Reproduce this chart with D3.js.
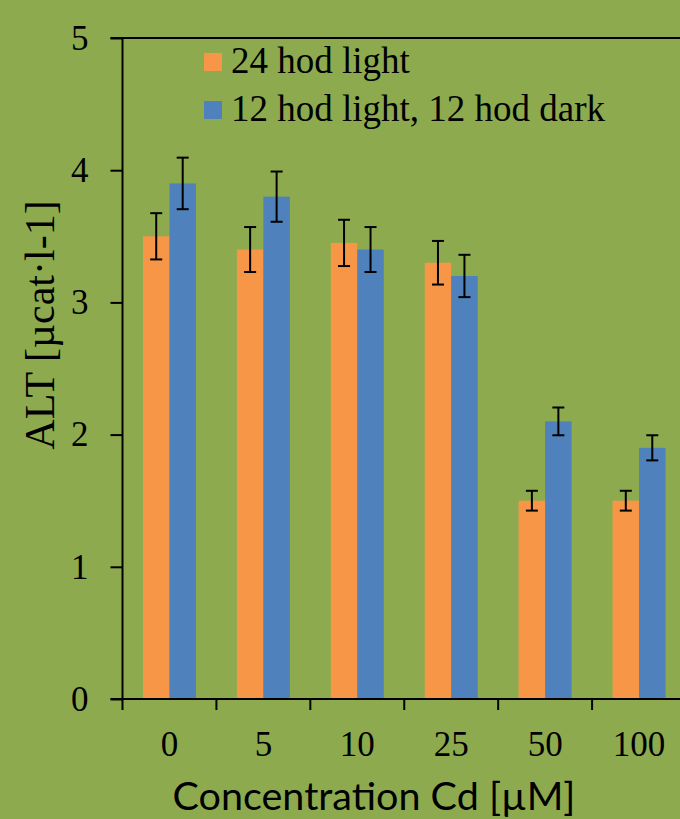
<!DOCTYPE html>
<script src="https://d3js.org/d3.v7.min.js"></script>

<style>
body {margin: 0; background: #8dab4e;}
svg {display: block;}
.tick text {font-family: "Liberation Serif", "Times New Roman", serif; font-size: 35px; fill: black;}
.legend text {font-family: "Liberation Serif", serif; font-size: 37px;}
</style>

<svg width="680" height="819"></svg>

<script>
var categories = ["0", "5", "10", "25", "50", "100"];
var lightValues = [3.5, 3.4, 3.45, 3.3, 1.5, 1.5];
var lightErrors = [0.175, 0.17, 0.175, 0.165, 0.075, 0.075];
var darkValues = [3.9, 3.8, 3.4, 3.2, 2.1, 1.9];
var darkErrors = [0.195, 0.19, 0.17, 0.16, 0.105, 0.095];
var seriesNames = ["24 hod light", "12 hod light, 12 hod dark"];
var seriesColors = ["#f79646", "#4f81bd"];
var yTicks = [0, 1, 2, 3, 4, 5];

var svg = d3.select("svg");
svg.append("rect").attr("width", 680).attr("height", 819).attr("fill", "#8dab4e");

var plotLeft = 122.5, plotTop = 38, plotBottom = 699, plotRight = 686;

var x = d3.scaleBand().domain(categories).range([plotLeft, plotRight]).padding(0);
var y = d3.scaleLinear().domain([0, 5]).range([plotBottom, plotTop]);

var barW = x.bandwidth() * 0.282;

var series = [
    {values: lightValues, errors: lightErrors, color: seriesColors[0], off: -1},
    {values: darkValues, errors: darkErrors, color: seriesColors[1], off: 0}
];

var data = [];
series.forEach(function(s) {
    categories.forEach(function(c, i) {
        data.push({cat: c, v: s.values[i], e: s.errors[i], color: s.color, off: s.off});
    });
});

function bx(d) { return x(d.cat) + x.bandwidth() / 2 + d.off * barW; }

svg.append("g").selectAll("rect").data(data).enter().append("rect")
    .attr("x", bx)
    .attr("y", function(d) { return y(d.v); })
    .attr("width", barW)
    .attr("height", function(d) { return y(0) - y(d.v); })
    .attr("fill", function(d) { return d.color; });

// error bars
var err = svg.append("g").attr("stroke", "black").attr("stroke-width", 2)
    .selectAll("g").data(data).enter().append("g");
err.append("line")
    .attr("x1", function(d) { return bx(d) + barW / 2; })
    .attr("x2", function(d) { return bx(d) + barW / 2; })
    .attr("y1", function(d) { return y(d.v + d.e); })
    .attr("y2", function(d) { return y(d.v - d.e); });
[1, -1].forEach(function(sgn) {
    err.append("line")
        .attr("x1", function(d) { return bx(d) + barW / 2 - 6; })
        .attr("x2", function(d) { return bx(d) + barW / 2 + 6; })
        .attr("y1", function(d) { return y(d.v + sgn * d.e); })
        .attr("y2", function(d) { return y(d.v + sgn * d.e); });
});

// y axis
var yAxis = svg.append("g").attr("transform", "translate(" + plotLeft + ",0)")
    .call(d3.axisLeft(y).tickValues(yTicks).tickSize(12).tickPadding(22).tickFormat(d3.format("d")));
yAxis.select(".domain").remove();
yAxis.append("line").attr("x1", 0).attr("x2", 0).attr("y1", plotTop).attr("y2", plotBottom)
    .attr("stroke", "black").attr("stroke-width", 2);
yAxis.selectAll(".tick line").attr("stroke-width", 2);

// top border
svg.append("line").attr("x1", plotLeft - 12).attr("x2", 680).attr("y1", plotTop).attr("y2", plotTop)
    .attr("stroke", "black").attr("stroke-width", 2);

// x axis
var xAxis = svg.append("g").attr("transform", "translate(0," + plotBottom + ")")
    .call(d3.axisBottom(x).tickSize(0).tickPadding(32));
xAxis.select(".domain").remove();
xAxis.append("line").attr("x1", plotLeft - 12).attr("x2", 680).attr("y1", 0).attr("y2", 0)
    .attr("stroke", "black").attr("stroke-width", 2);
xAxis.selectAll(".bound").data(categories).enter().append("line")
    .attr("x1", function(d) { return x(d); })
    .attr("x2", function(d) { return x(d); })
    .attr("y1", 0).attr("y2", 11)
    .attr("stroke", "black").attr("stroke-width", 2);

// axis titles
svg.append("text")
    .attr("transform", "translate(54,325) rotate(-90)")
    .attr("text-anchor", "middle")
    .style("font-family", "Liberation Serif, serif")
    .style("font-size", "42px")
    .text("ALT [µcat·l-1]");

svg.append("text")
    .attr("x", 374).attr("y", 810)
    .attr("text-anchor", "middle")
    .style("font-family", "Lato, sans-serif")
    .style("font-size", "39.5px")
    .text("Concentration Cd [µM]");

// legend
var legend = svg.append("g").attr("class", "legend")
    .selectAll("g").data(seriesNames).enter().append("g")
    .attr("transform", function(d, i) { return "translate(204," + (53 + i * 48) + ")"; });
legend.append("rect").attr("width", 18).attr("height", 18)
    .attr("fill", function(d, i) { return seriesColors[i]; });
legend.append("text").attr("x", 27).attr("y", 20).text(function(d) { return d; });
</script>
